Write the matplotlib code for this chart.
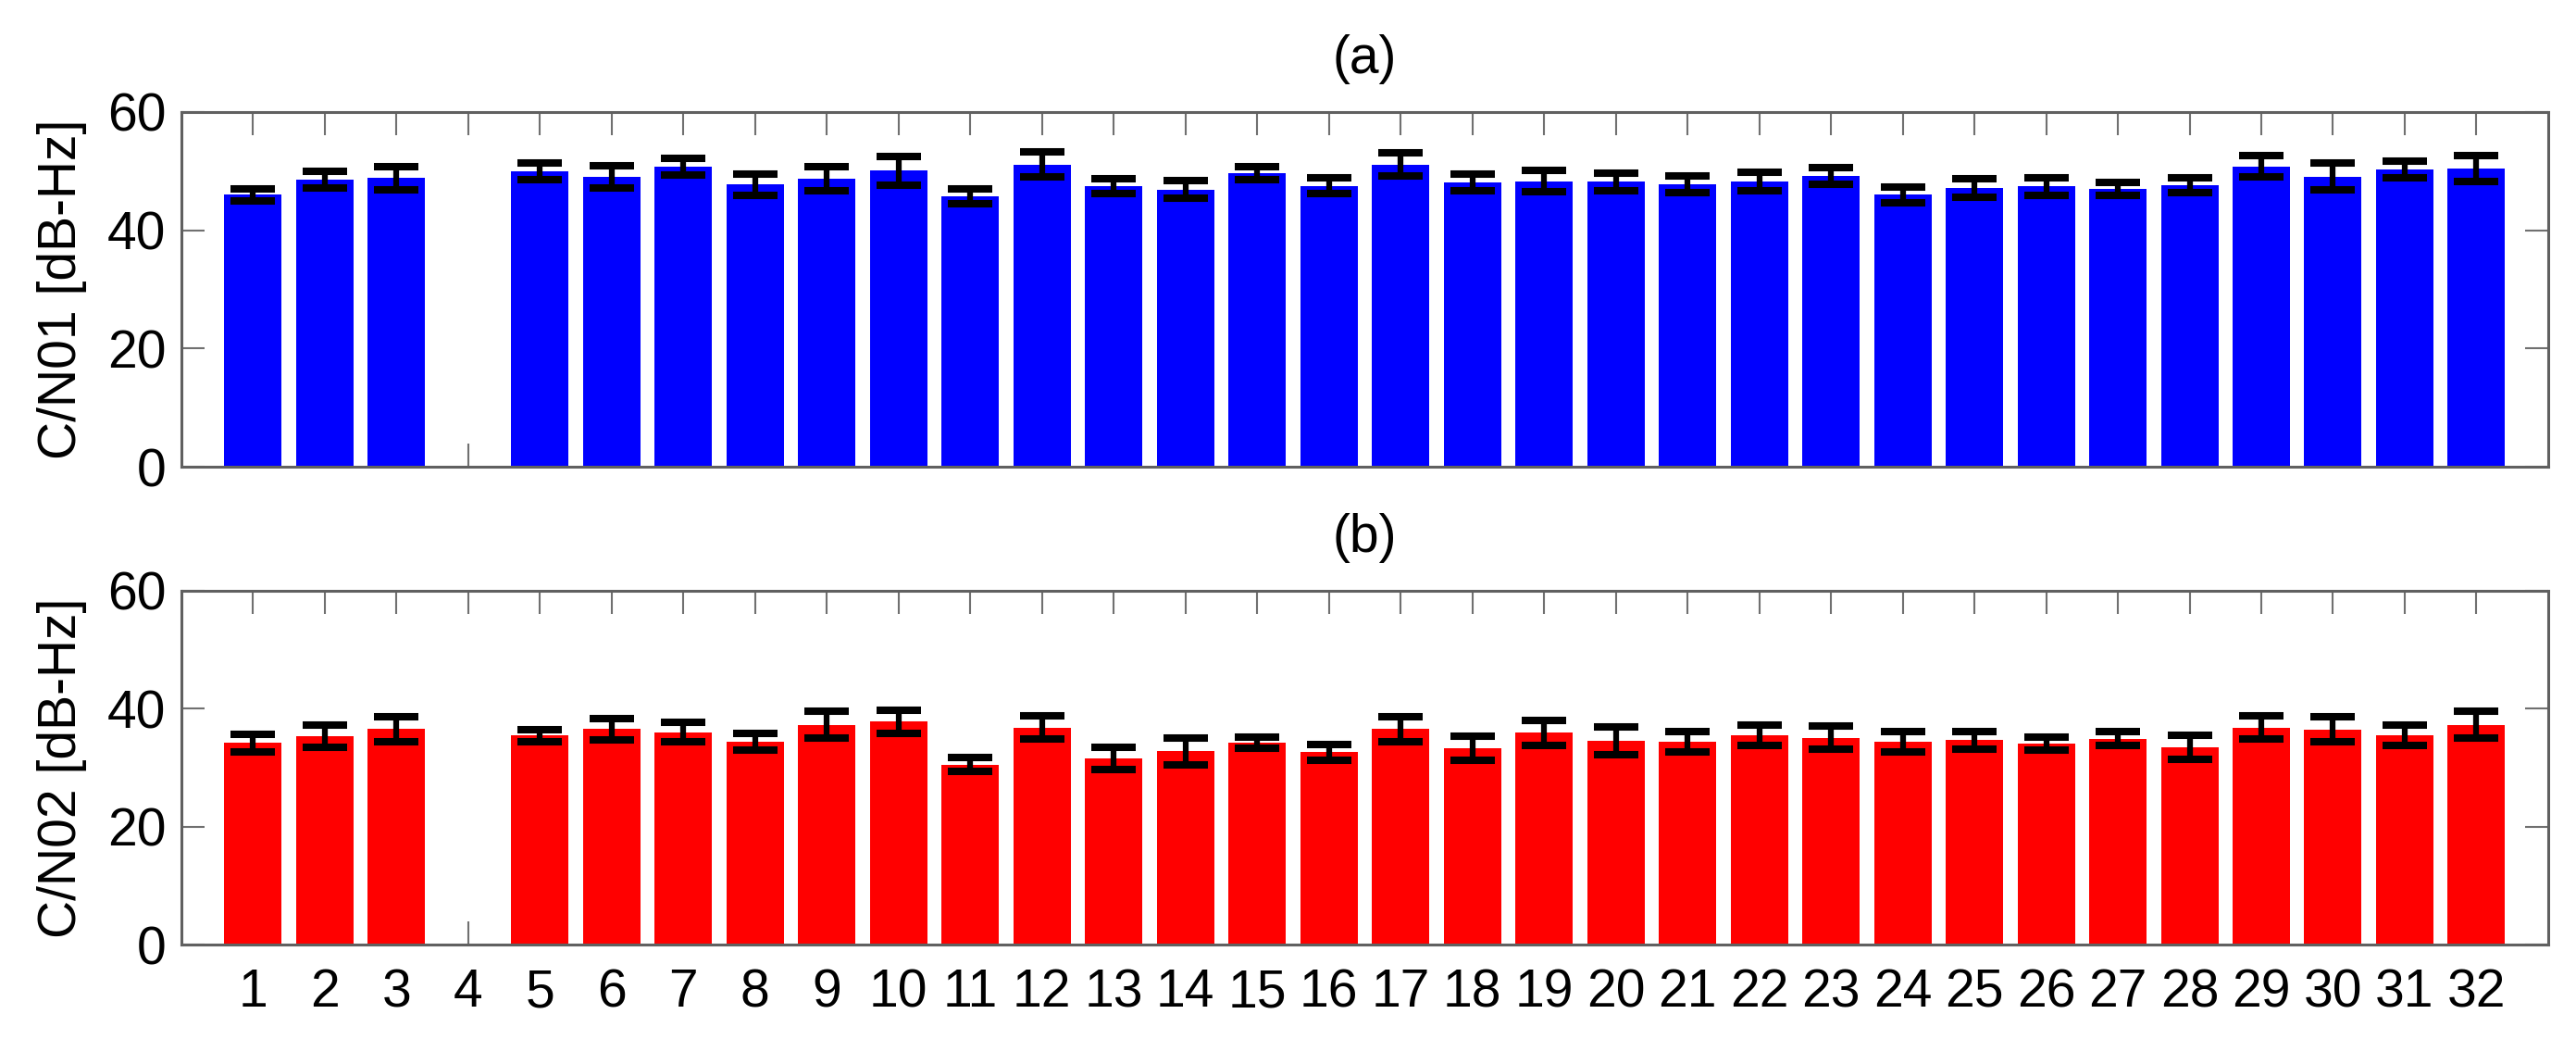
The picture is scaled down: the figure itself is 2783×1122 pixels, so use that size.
import numpy as np
import matplotlib
matplotlib.use("Agg")
import matplotlib.pyplot as plt

# satellite PRN numbers and C/N0 values (PRN 4 missing)
prn = np.arange(1, 33)
cn01 = [46.0, 48.5, 48.8, np.nan, 49.9, 49.0, 50.8, 47.7, 48.7, 50.05, 45.8, 51.1, 47.5, 46.9, 49.6, 47.5,
        51.1, 48.1, 48.3, 48.2, 47.75, 48.3, 49.2, 46.0, 47.1, 47.4, 47.0, 47.6, 50.8, 49.1, 50.3, 50.5]
err01 = [1.05, 1.4, 2.0, np.nan, 1.4, 1.85, 1.4, 1.8, 2.0, 2.45, 1.25, 2.1, 1.25, 1.45, 1.1, 1.35,
         1.95, 1.45, 1.8, 1.45, 1.45, 1.55, 1.35, 1.3, 1.55, 1.5, 1.05, 1.25, 1.8, 2.3, 1.4, 2.2]
cn02 = [34.2, 35.35, 36.55, np.nan, 35.45, 36.55, 36.0, 34.4, 37.3, 37.8, 30.5, 36.8, 31.6, 32.75, 34.25, 32.65,
        36.55, 33.35, 35.9, 34.55, 34.4, 35.5, 35.1, 34.4, 34.7, 34.1, 34.9, 33.45, 36.8, 36.5, 35.5, 37.3]
err02 = [1.5, 1.95, 2.1, np.nan, 1.05, 1.8, 1.65, 1.45, 2.25, 1.95, 1.15, 1.95, 1.9, 2.3, 0.95, 1.35,
         2.15, 2.05, 2.15, 2.35, 1.75, 1.8, 1.95, 1.75, 1.5, 1.05, 1.2, 2.05, 2.0, 2.1, 1.8, 2.25]

plt.rcParams['font.family'] = ['Liberation Sans', 'DejaVu Sans']
fs = 41

fig = plt.figure(figsize=(27.83, 11.22), dpi=100)
ax1 = fig.add_axes([0.0704, 0.5508, 0.9188, 0.3414])
ax2 = fig.add_axes([0.0704, 0.0909, 0.9188, 0.3405])

panels = [(ax1, cn01, err01, '#0000ff', 'C/N01 [dB-Hz]', '(a)'),
          (ax2, cn02, err02, '#ff0000', 'C/N02 [dB-Hz]', '(b)')]

for ax, vals, errs, color, ylab, title in panels:
    ax.bar(prn, vals, width=0.8, color=color, edgecolor='none', zorder=1)
    ax.errorbar(prn, vals, yerr=errs, fmt='none', ecolor='black', elinewidth=4.5,
                capsize=17.5, capthick=5.8, zorder=3)
    ax.set_xlim(0, 33)
    ax.set_ylim(0, 60)
    ax.set_xticks(prn)
    ax.set_yticks([0, 20, 40, 60])
    ax.set_axisbelow(True)
    ax.tick_params(direction='in', length=18, width=1.5, color='#707070',
                   top=True, right=True, labelsize=fs, pad=12)
    ax.tick_params(axis='x', pad=18)
    for sp in ax.spines.values():
        sp.set_color('#606060')
        sp.set_linewidth(2.2)
    ax.set_ylabel(ylab, fontsize=fs, labelpad=16)
    ax.set_title(title, fontsize=fs, pad=30)

ax1.set_xticklabels([])

fig.savefig('out.png', dpi=100)
